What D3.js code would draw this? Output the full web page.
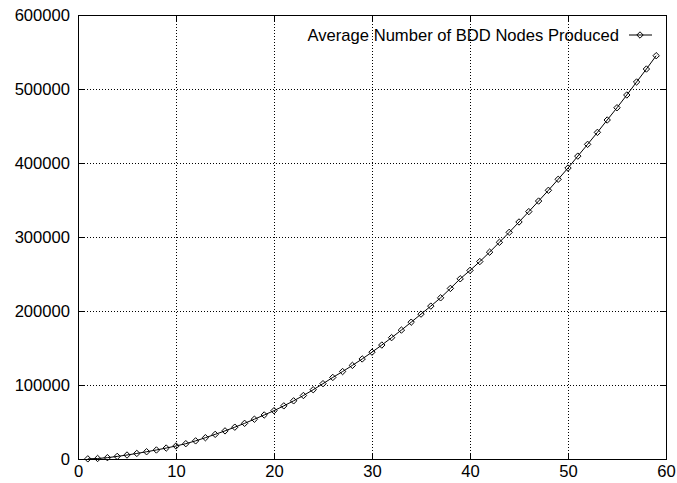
<!DOCTYPE html>
<html>
<head>
<meta charset="utf-8">
<script src="https://cdn.jsdelivr.net/npm/d3@7"></script>
<style>
  body { margin: 0; background: #fff; }
  text { font-family: "Liberation Sans", Arial, sans-serif; font-size: 16.6px; fill: #000; }
</style>
</head>
<body>
<div id="chart-area"></div>
<script>
// data
var xValues = d3.range(1, 60);
var bddNodes = [
    200, 700, 1800, 3500, 5400, 7500, 9800, 12200, 14800, 17600,
    20700, 24500, 28800, 33300, 38000, 43000, 48200, 53800, 59500, 65300,
    71800, 78600, 85800, 93600, 101800, 110200, 118200, 126500, 135200, 144400,
    154000, 164000, 174200, 184900, 195800, 206600, 217800, 230500, 243500, 254800,
    266800, 279500, 292800, 306300, 320300, 334300, 348600, 363100, 378000, 393200,
    409300, 425200, 441400, 458100, 474700, 491900, 509500, 527000, 545000
];
var xTicks = [0, 10, 20, 30, 40, 50, 60];
var yTicks = [0, 100000, 200000, 300000, 400000, 500000, 600000];
var seriesName = "Average Number of BDD Nodes Produced";

var W = 677, H = 483;
var margin = {top: 15, right: 11, bottom: 24, left: 78};
var width = W - margin.left - margin.right,
    height = H - margin.top - margin.bottom;

var svg = d3.select("#chart-area").append("svg")
    .attr("width", W)
    .attr("height", H);

var g = svg.append("g")
    .attr("transform", "translate(" + margin.left + "," + margin.top + ")");

var x = d3.scaleLinear().domain([0, 60]).range([0, width]);
var y = d3.scaleLinear().domain([0, 600000]).range([height, 0]);

// grid
g.selectAll(".gx").data(xTicks.slice(1, -1)).enter().append("line")
    .attr("x1", function(d) { return x(d); }).attr("x2", function(d) { return x(d); })
    .attr("y1", 0).attr("y2", height)
    .attr("stroke", "#000").attr("stroke-width", 1)
    .attr("stroke-dasharray", "1,2")
    .attr("shape-rendering", "crispEdges");

g.selectAll(".gy").data(yTicks.slice(1, -1)).enter().append("line")
    .attr("x1", 0).attr("x2", width)
    .attr("y1", function(d) { return y(d); }).attr("y2", function(d) { return y(d); })
    .attr("stroke", "#000").attr("stroke-width", 1)
    .attr("stroke-dasharray", "1,2")
    .attr("shape-rendering", "crispEdges");

// axes with inner ticks on all four sides
var tickLen = 6;
g.append("g").attr("transform", "translate(0," + height + ")")
    .call(d3.axisBottom(x).tickValues(xTicks).tickSize(-tickLen).tickPadding(6));
g.append("g")
    .call(d3.axisTop(x).tickValues(xTicks).tickSize(-tickLen).tickFormat(""));
g.append("g")
    .call(d3.axisLeft(y).tickValues(yTicks).tickSize(-tickLen).tickPadding(8).tickFormat(d3.format("d")));
g.append("g").attr("transform", "translate(" + width + ",0)")
    .call(d3.axisRight(y).tickValues(yTicks).tickSize(-tickLen).tickFormat(""));

g.selectAll(".domain").attr("stroke", "#000");
g.selectAll(".tick line").attr("stroke", "#000");
g.selectAll(".tick text").style("font-size", "16.6px")
    .style("font-family", "'Liberation Sans', Arial, sans-serif").attr("fill", "#000");

// border
g.append("rect").attr("width", width).attr("height", height)
    .attr("fill", "none").attr("stroke", "#000").attr("shape-rendering", "crispEdges");

// series
var data = xValues.map(function(d, i) { return {x: d, y: bddNodes[i]}; });

var line = d3.line()
    .x(function(d) { return x(d.x); })
    .y(function(d) { return y(d.y); });

g.append("path").datum(data)
    .attr("d", line)
    .attr("fill", "none")
    .attr("stroke", "#000")
    .attr("stroke-width", 1);

var diamond = "M0,-3.2L3.2,0L0,3.2L-3.2,0Z";

g.selectAll(".pt").data(data).enter().append("path")
    .attr("class", "pt")
    .attr("d", diamond)
    .attr("transform", function(d) { return "translate(" + x(d.x) + "," + y(d.y) + ")"; })
    .attr("fill", "none")
    .attr("stroke", "#000")
    .attr("stroke-width", 1);

// legend
var legend = svg.append("g");
legend.append("text")
    .attr("x", 619).attr("y", 41)
    .attr("text-anchor", "end")
    .text(seriesName);
legend.append("line")
    .attr("x1", 629).attr("x2", 652).attr("y1", 35).attr("y2", 35)
    .attr("stroke", "#000");
legend.append("path")
    .attr("d", diamond)
    .attr("transform", "translate(640,35)")
    .attr("fill", "none").attr("stroke", "#000");
</script>
</body>
</html>
